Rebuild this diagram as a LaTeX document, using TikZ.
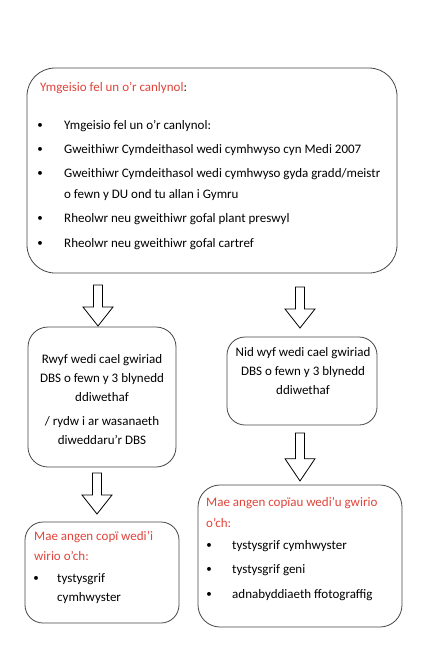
\documentclass[tikz,border=0pt]{standalone}
\usepackage{fontspec}
\setmainfont{Carlito}
\usepackage{xcolor}
\usetikzlibrary{positioning}
\definecolor{titlered}{RGB}{224,68,58}
\definecolor{boxline}{RGB}{70,70,70}

\begin{document}
\begin{tikzpicture}[
    x=1pt, y=-1pt,
    flowbox/.style={draw=boxline, line width=0.8pt, rectangle, fill=white, inner sep=0pt},
    boxtext/.style={font=\fontsize{13}{19}\selectfont, inner sep=0pt, anchor=west},
    boxtitle/.style={boxtext, text=titlered},
    bulletmark/.style={font=\fontsize{11}{19}\selectfont, inner sep=0pt},
    midtext/.style={font=\fontsize{13}{19}\selectfont, align=center, inner sep=0pt}
]
    \tikzset{
        blockarrow/.pic={
            \draw[line width=0.8pt, fill=white] (-4.5,0) -- (4.5,0) -- (4.5,22) -- (15,22)
                -- (0,41) -- (-15,22) -- (-4.5,22) -- cycle;
        }
    }
    \useasboundingbox (0,0) rectangle (431,656);

    % ================= TOP BOX =================
    \node[flowbox, minimum width=370pt, minimum height=205pt, rounded corners=28pt] (topbox) at (212,170.5) {};
    \node[boxtitle] (toptitle) at (40,88) {Ymgeisio fel un o’r canlynol\textcolor{black!70!titlered}{:}};

    \node[bulletmark] (b1) at (40,126) {\textbullet};
    \node[boxtext] (t1) at (64,126) {Ymgeisio fel un o’r canlynol:};
    \node[bulletmark] (b2) at (40,150) {\textbullet};
    \node[boxtext] (t2) at (64,150) {Gweithiwr Cymdeithasol wedi cymhwyso cyn Medi 2007};
    \node[bulletmark] (b3) at (40,174) {\textbullet};
    \node[boxtext] (t3) at (64,174) {Gweithiwr Cymdeithasol wedi cymhwyso gyda gradd/meistr};
    \node[boxtext] (t3b) at (64,195) {o fewn y DU ond tu allan i Gymru};
    \node[bulletmark] (b4) at (40,219) {\textbullet};
    \node[boxtext] (t4) at (64,219) {Rheolwr neu gweithiwr gofal plant preswyl};
    \node[bulletmark] (b5) at (40,244) {\textbullet};
    \node[boxtext] (t5) at (64,244) {Rheolwr neu gweithiwr gofal cartref};

    % ================= ARROWS FROM TOP =================
    \pic at (98,285) {blockarrow};
    \pic at (300,287) {blockarrow};

    % ================= MIDDLE BOXES =================
    \node[flowbox, minimum width=148pt, minimum height=140pt, rounded corners=20pt] (dbsyes) at (102,397) {};
    \node[midtext] (dbsyestext) at (102,399.5) {Rwyf wedi cael gwiriad\\DBS o fewn y 3 blynedd\\ddiwethaf\\[5pt]/ rydw i ar wasanaeth\\diweddaru’r DBS};

    \node[flowbox, minimum width=150pt, minimum height=88pt, rounded corners=18pt] (dbsno) at (302,381) {};
    \node[midtext] (dbsnotext) at (303,371) {Nid wyf wedi cael gwiriad\\DBS o fewn y 3 blynedd\\ddiwethaf};

    % ================= ARROWS TO BOTTOM =================
    \pic at (97,473) {blockarrow};
    \pic[yscale=1.17] at (300,433) {blockarrow};

    % ================= BOTTOM LEFT =================
    \node[flowbox, minimum width=154pt, minimum height=101pt, rounded corners=18pt] (copyone) at (102,572.5) {};
    \node[boxtitle] (onetitle1) at (34,537) {Mae angen copï wedi’i};
    \node[boxtitle] (onetitle2) at (34,556) {wirio o’ch:};
    \node[bulletmark] (ob1) at (36,579) {\textbullet};
    \node[boxtext] (ot1) at (57,579) {tystysgrif};
    \node[boxtext] (ot1b) at (57,598) {cymhwyster};

    % ================= BOTTOM RIGHT =================
    \node[flowbox, minimum width=204pt, minimum height=142pt, rounded corners=22pt] (copymany) at (300,556) {};
    \node[boxtitle] (manytitle1) at (206,503) {Mae angen copïau wedi’u gwirio};
    \node[boxtitle] (manytitle2) at (206,523) {o’ch:};
    \node[bulletmark] (mb1) at (209,546) {\textbullet};
    \node[boxtext] (mt1) at (232,546) {tystysgrif cymhwyster};
    \node[bulletmark] (mb2) at (209,570) {\textbullet};
    \node[boxtext] (mt2) at (232,570) {tystysgrif geni};
    \node[bulletmark] (mb3) at (209,595) {\textbullet};
    \node[boxtext] (mt3) at (232,595) {adnabyddiaeth ffotograffig};
\end{tikzpicture}
\end{document}
